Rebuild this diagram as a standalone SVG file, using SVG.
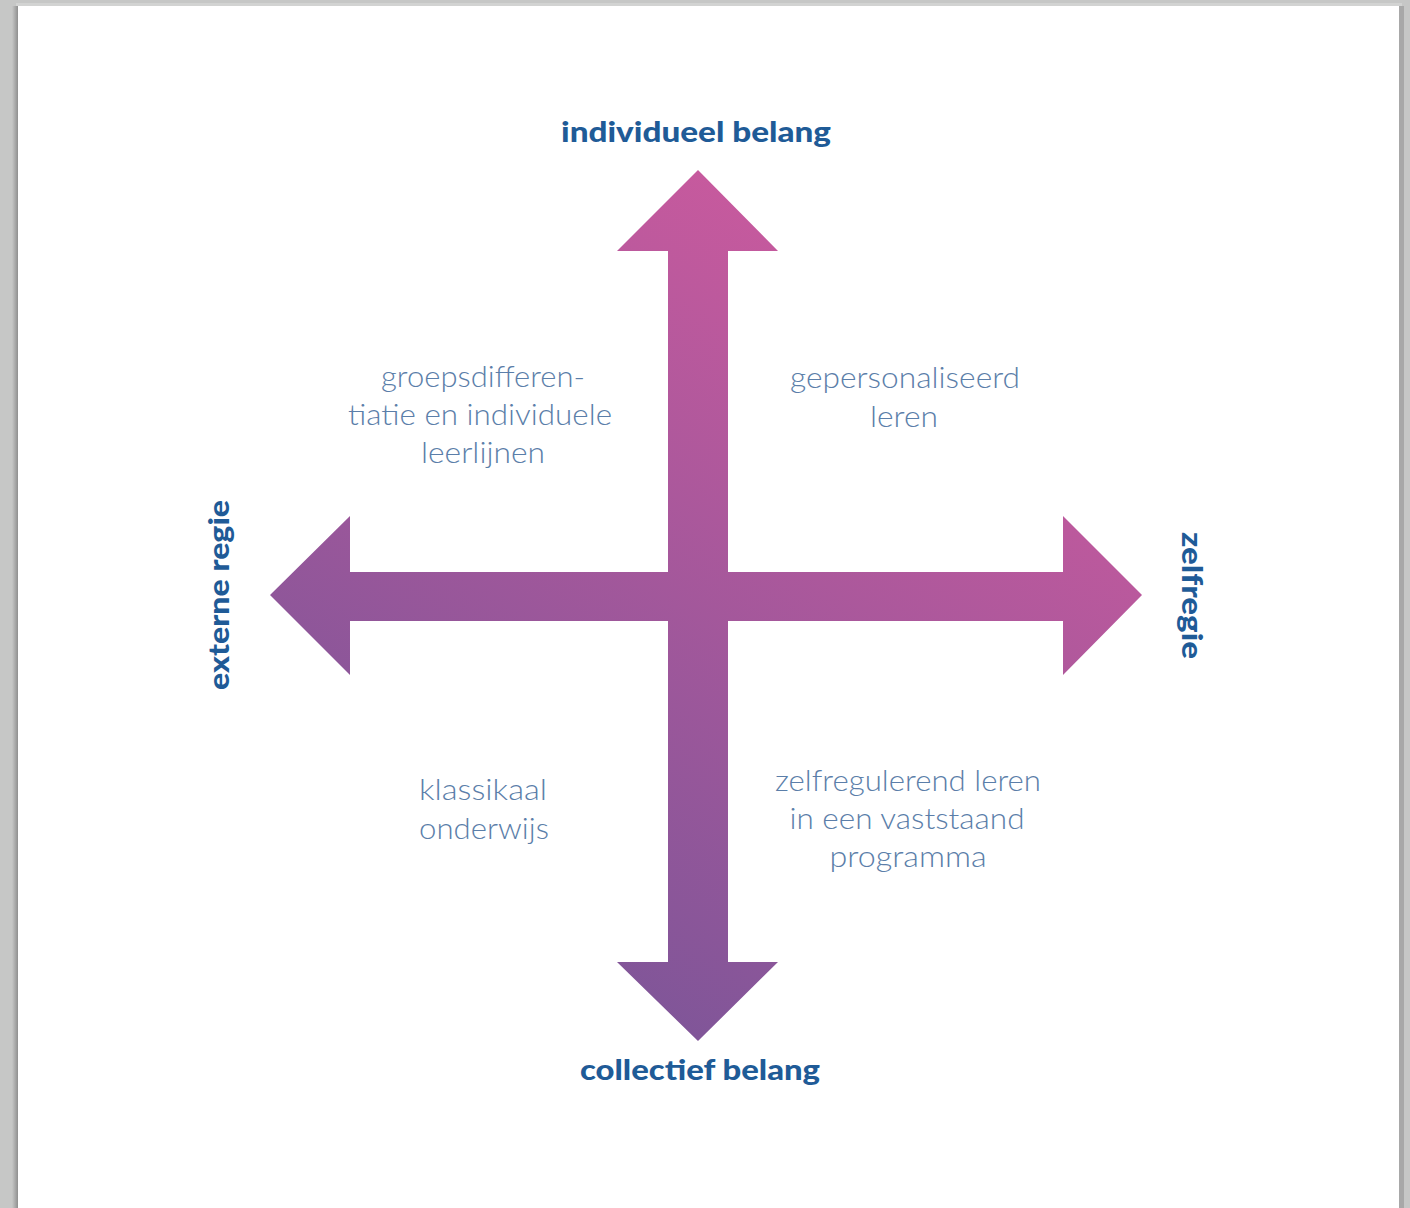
<svg xmlns="http://www.w3.org/2000/svg" width="1410" height="1208" viewBox="0 0 1410 1208">
  <defs>
    <linearGradient id="arrowGrad" gradientUnits="userSpaceOnUse" x1="500" y1="1000" x2="950" y2="250">
      <stop offset="0" stop-color="#7a5598"/>
      <stop offset="1" stop-color="#cc5a9e"/>
    </linearGradient>
    <linearGradient id="leftShadow" x1="0" y1="0" x2="1" y2="0">
      <stop offset="0" stop-color="#c6c7c6"/>
      <stop offset="1" stop-color="#8f8f8f"/>
    </linearGradient>
    <style>
      .axis { font-family: Lato, "Open Sans", "Liberation Sans", sans-serif; font-weight: 900; font-size: 29px; fill: #1f5b97; }
      .quad { font-family: Lato, "Open Sans", "Liberation Sans", sans-serif; font-weight: 300; font-size: 30px; fill: #5b7ea9; text-anchor: middle; }
    </style>
  </defs>

  <!-- background and page -->
  <rect x="0" y="0" width="1410" height="1208" fill="#c6c7c6"/>
  <rect x="12" y="6" width="6" height="1202" fill="url(#leftShadow)"/>
  <rect x="16" y="3" width="1386" height="3" fill="#d2d3d2"/>
  <rect x="1399" y="6" width="5" height="1202" fill="#a8a8a8"/>
  <rect x="18" y="6" width="1381" height="1202" fill="#ffffff"/>

  <!-- connectors: the cross of arrows -->
  <g id="connectors">
    <path id="vertical-arrow" fill="url(#arrowGrad)" d="M698,170 L778,251 L728,251 L728,962 L778,962 L698,1041 L617,962 L668,962 L668,251 L617,251 Z"/>
    <path id="horizontal-arrow" fill="url(#arrowGrad)" d="M270,595 L350,516 L350,572 L1063,572 L1063,516 L1142,595 L1063,675 L1063,621 L350,621 L350,675 Z"/>
  </g>

  <!-- axis labels -->
  <g id="label-individueel">
    <text class="axis" x="561" y="142" textLength="270" lengthAdjust="spacingAndGlyphs">individueel belang</text>
  </g>
  <g id="label-collectief">
    <text class="axis" x="580" y="1080" textLength="240" lengthAdjust="spacingAndGlyphs">collectief belang</text>
  </g>
  <g id="label-externe">
    <text class="axis" transform="translate(229,690) rotate(-90)" x="0" y="0" textLength="190" lengthAdjust="spacingAndGlyphs">externe regie</text>
  </g>
  <g id="label-zelfregie">
    <text class="axis" transform="translate(1182,532) rotate(90)" x="0" y="0" textLength="127" lengthAdjust="spacingAndGlyphs">zelfregie</text>
  </g>

  <!-- quadrant labels -->
  <g id="quad-top-left">
    <text class="quad" x="483" y="387" textLength="204" lengthAdjust="spacingAndGlyphs">groepsdifferen-</text>
    <text class="quad" x="480" y="425" textLength="264" lengthAdjust="spacingAndGlyphs">tiatie en individuele</text>
    <text class="quad" x="483" y="463" textLength="124" lengthAdjust="spacingAndGlyphs">leerlijnen</text>
  </g>
  <g id="quad-top-right">
    <text class="quad" x="905" y="388" textLength="230" lengthAdjust="spacingAndGlyphs">gepersonaliseerd</text>
    <text class="quad" x="904" y="427" textLength="68" lengthAdjust="spacingAndGlyphs">leren</text>
  </g>
  <g id="quad-bottom-left">
    <text class="quad" x="483" y="800" textLength="128" lengthAdjust="spacingAndGlyphs">klassikaal</text>
    <text class="quad" x="484" y="839" textLength="130" lengthAdjust="spacingAndGlyphs">onderwijs</text>
  </g>
  <g id="quad-bottom-right">
    <text class="quad" x="908" y="791" textLength="266" lengthAdjust="spacingAndGlyphs">zelfregulerend leren</text>
    <text class="quad" x="907" y="829" textLength="235" lengthAdjust="spacingAndGlyphs">in een vaststaand</text>
    <text class="quad" x="908" y="867" textLength="157" lengthAdjust="spacingAndGlyphs">programma</text>
  </g>
</svg>
